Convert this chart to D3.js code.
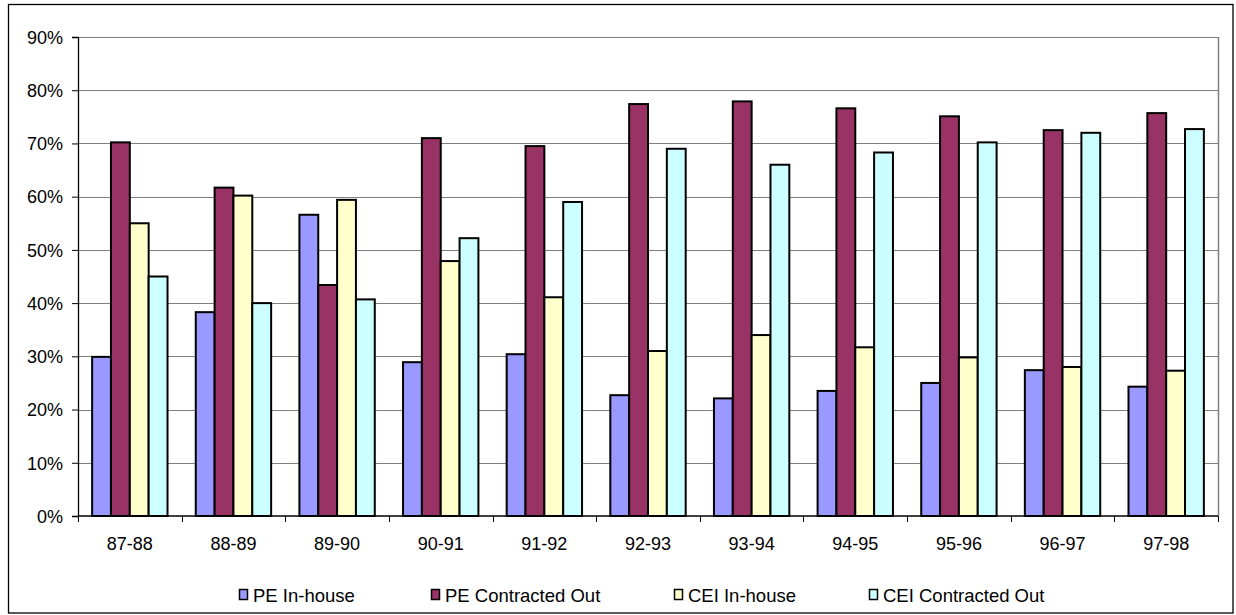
<!DOCTYPE html>
<html>
<head>
<meta charset="utf-8">
<script src="https://cdn.jsdelivr.net/npm/d3@7"></script>
<style>
  html, body { margin: 0; padding: 0; background: #ffffff; }
  svg text { font-family: "Liberation Sans", Arial, sans-serif; fill: #000; }
</style>
</head>
<body>
<svg id="chart" width="1236" height="615"></svg>
<script>
// Fiscal years on the category axis
const years = ["87-88", "88-89", "89-90", "90-91", "91-92", "92-93", "93-94", "94-95", "95-96", "96-97", "97-98"];

// Share of work (%) by delivery mode
const peInHouse       = [29.9, 38.3, 56.6, 28.9, 30.4, 22.7, 22.1, 23.5, 25.0, 27.4, 24.3];
const peContracted    = [70.2, 61.7, 43.4, 71.0, 69.5, 77.4, 77.9, 76.6, 75.1, 72.5, 75.7];
const ceiInHouse      = [55.0, 60.2, 59.4, 47.9, 41.1, 31.0, 34.0, 31.7, 29.8, 28.0, 27.3];
const ceiContracted   = [45.0, 40.0, 40.7, 52.2, 59.0, 69.0, 66.0, 68.3, 70.2, 72.0, 72.7];

const seriesNames  = ["PE In-house", "PE Contracted Out", "CEI In-house", "CEI Contracted Out"];
const seriesValues = [peInHouse, peContracted, ceiInHouse, ceiContracted];
const seriesColors = ["#9999FF", "#993366", "#FFFFCC", "#CCFFFF"];

const yTicks = [0, 10, 20, 30, 40, 50, 60, 70, 80, 90];

const svg = d3.select("#chart");
const plot = { left: 78, right: 1218, top: 37, bottom: 516 };

// Outer chart frame
svg.append("rect")
  .attr("x", 8.5).attr("y", 4.5)
  .attr("width", 1224.5).attr("height", 608.5)
  .attr("fill", "#fff").attr("stroke", "#000").attr("stroke-width", 1.3);

const x0 = d3.scaleBand().domain(years).range([plot.left, plot.right]).padding(0);
const x1 = d3.scaleBand().domain(d3.range(seriesNames.length))
  .range([0, x0.bandwidth()]).paddingInner(0).paddingOuter(0.75);
const y = d3.scaleLinear().domain([0, 90]).range([plot.bottom, plot.top]);

// Gridlines
svg.append("g").selectAll("line").data(yTicks.filter(t => t > 0)).join("line")
  .attr("x1", plot.left).attr("x2", plot.right)
  .attr("y1", d => Math.round(y(d)) + 0.5).attr("y2", d => Math.round(y(d)) + 0.5)
  .attr("stroke", "#808080").attr("stroke-width", 1);

// Plot area border (right side)
svg.append("line")
  .attr("x1", plot.right + 0.5).attr("x2", plot.right + 0.5)
  .attr("y1", plot.top).attr("y2", plot.bottom)
  .attr("stroke", "#808080").attr("stroke-width", 1.5);

// Bars
const groups = svg.append("g").selectAll("g").data(years).join("g")
  .attr("transform", d => `translate(${x0(d)},0)`);
groups.selectAll("rect")
  .data((d, i) => seriesValues.map((vals, s) => ({ s, v: vals[i] })))
  .join("rect")
  .attr("x", d => x1(d.s))
  .attr("width", x1.bandwidth())
  .attr("y", d => y(d.v))
  .attr("height", d => y(0) - y(d.v))
  .attr("fill", d => seriesColors[d.s])
  .attr("stroke", "#000").attr("stroke-width", 2);

// Y axis
const yAxis = svg.append("g").attr("transform", `translate(${plot.left},0)`)
  .call(d3.axisLeft(y).tickValues(yTicks).tickFormat(d => d + "%").tickSizeOuter(0).tickSize(6).tickPadding(9));
yAxis.select(".domain").attr("stroke", "#000").attr("stroke-width", 1.3);
yAxis.selectAll(".tick line").attr("stroke", "#000");
yAxis.selectAll("text").attr("font-size", 18).attr("dy", "0.35em")
  .style("font-family", "'Liberation Sans', Arial, sans-serif");

// X axis with ticks at category boundaries
const xAxis = svg.append("g").attr("transform", `translate(0,${plot.bottom})`);
xAxis.append("line").attr("x1", plot.left).attr("x2", plot.right)
  .attr("y1", 0).attr("y2", 0).attr("stroke", "#000").attr("stroke-width", 1.3);
const boundaries = years.map(d => x0(d)).concat([x0(years[years.length - 1]) + x0.bandwidth()]);
xAxis.selectAll("line.tk").data(boundaries).join("line").attr("class", "tk")
  .attr("x1", d => Math.round(d) + 0.5).attr("x2", d => Math.round(d) + 0.5)
  .attr("y1", 0).attr("y2", 6).attr("stroke", "#000");
xAxis.selectAll("text").data(years).join("text")
  .attr("x", d => x0(d) + x0.bandwidth() / 2)
  .attr("y", 34)
  .attr("text-anchor", "middle")
  .attr("font-size", 18)
  .text(d => d);

// Legend
const legendX = [239, 431, 674, 869];
const legend = svg.append("g").attr("transform", "translate(0,595)");
const items = legend.selectAll("g").data(seriesNames).join("g")
  .attr("transform", (d, i) => `translate(${legendX[i]},0)`);
items.append("rect")
  .attr("x", 0.5).attr("y", -5.5).attr("width", 8).attr("height", 10)
  .attr("fill", (d, i) => seriesColors[i]).attr("stroke", "#000").attr("stroke-width", 1.5);
items.append("text")
  .attr("x", 14).attr("y", 7)
  .attr("font-size", 18.5)
  .text(d => d);
</script>
</body>
</html>
